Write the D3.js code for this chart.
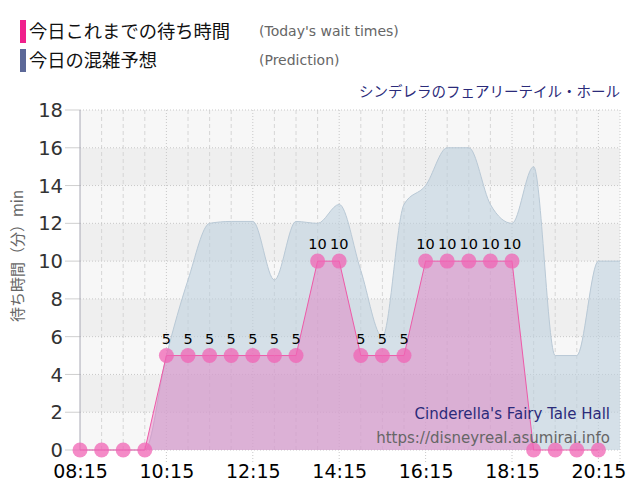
<!DOCTYPE html>
<html><head><meta charset="utf-8">
<script src="https://cdn.jsdelivr.net/npm/d3@7"></script>
<style>body{margin:0;background:#fff}svg{display:block}</style>
</head><body>
<svg id="c" width="640" height="500"></svg>
<script>
// ---- data ----
const actualTimes = ["08:15","08:45","09:15","09:45","10:15","10:45","11:15","11:45","12:15","12:45","13:15","13:45","14:15","14:45","15:15","15:45","16:15","16:45","17:15","17:45","18:15","18:45","19:15","19:45","20:15"];
const actualValues = [0,0,0,0,5,5,5,5,5,5,5,10,10,5,5,5,10,10,10,10,10,0,0,0,0];
const predTimes = ["08:15","08:45","09:15","09:45","10:15","10:45","11:15","11:45","12:15","12:45","13:15","13:45","14:15","14:45","15:15","15:45","16:15","16:45","17:15","17:45","18:15","18:45","19:15","19:45","20:15","20:45"];
const predValues = [0,0,0,0,5,9,12,12.1,12.1,9,12.1,12,13,9.5,6,13,14,16,16,13,12,15,5,5,10,10];
const xTickLabels = ["08:15","10:15","12:15","14:15","16:15","18:15","20:15"];
const yTickValues = [0,2,4,6,8,10,12,14,16,18];
const xDomainLabels = ["08:15","20:45"];

const toMin = s => { const [h,m] = s.split(":").map(Number); return h*60+m; };

const L = 80, R = 620, T = 110, B = 450;
const svg = d3.select("#c");
const x = d3.scaleLinear().domain(xDomainLabels.map(toMin)).range([L, R]);
const y = d3.scaleLinear().domain([0, 18]).range([B, T]);

// bands
const g = svg.append("g");
for (let i = 0; i < 9; i++) {
  g.append("rect").attr("x", L).attr("width", R - L)
    .attr("y", y(i*2+2)).attr("height", y(i*2) - y(i*2+2))
    .attr("fill", i % 2 === 0 ? "#f7f7f7" : "#efefef");
}
// vertical grid
const majors = xTickLabels.map(toMin);
for (let t = toMin("08:45"); t <= toMin("20:45"); t += 30) {
  const isMajor = majors.includes(t) || t === toMin("20:45");
  g.append("line").attr("x1", x(t)).attr("x2", x(t)).attr("y1", T).attr("y2", isMajor ? B + 13 : B)
    .attr("stroke", isMajor ? "#c8c8c8" : "#d6d6d6")
    .attr("stroke-dasharray", isMajor ? "1,2" : "4,3");
}
// horizontal grid
yTickValues.forEach(v => {
  g.append("line").attr("x1", 65).attr("x2", L).attr("y1", y(v)).attr("y2", y(v)).attr("stroke", "#cfcfcf");
  g.append("line").attr("x1", L).attr("x2", R).attr("y1", y(v)).attr("y2", y(v))
    .attr("stroke", "#c8c8c8").attr("stroke-dasharray", "1,2");
});
// y axis line
g.append("line").attr("x1", L).attr("x2", L).attr("y1", T).attr("y2", B).attr("stroke", "#a8a8b4");

// prediction area
const pred = predTimes.map((t, i) => ({t: toMin(t), v: predValues[i]}));
svg.append("path").datum(pred)
  .attr("d", d3.area().x(d => x(d.t)).y0(y(0)).y1(d => y(d.v)).curve(d3.curveMonotoneX))
  .attr("fill", "rgba(190,208,222,0.6)");
svg.append("path").datum(pred)
  .attr("d", d3.line().x(d => x(d.t)).y(d => y(d.v)).curve(d3.curveMonotoneX))
  .attr("fill", "none").attr("stroke", "#b9c9d6").attr("stroke-width", 1);

// actual area
const act = actualTimes.map((t, i) => ({t: toMin(t), v: actualValues[i]}));
svg.append("path").datum(act)
  .attr("d", d3.area().x(d => x(d.t)).y0(y(0)).y1(d => y(d.v)))
  .attr("fill", "rgba(228,125,195,0.48)");
svg.append("path").datum(act)
  .attr("d", d3.line().x(d => x(d.t)).y(d => y(d.v)))
  .attr("fill", "none").attr("stroke", "#ee5aa8").attr("stroke-width", 1);
svg.selectAll("circle.pt").data(act).enter().append("circle")
  .attr("cx", d => x(d.t)).attr("cy", d => y(d.v)).attr("r", 7.5)
  .attr("fill", "rgba(240,100,180,0.75)");
svg.selectAll("text.lbl").data(act.filter(d => d.v > 0)).enter().append("text")
  .attr("x", d => x(d.t)).attr("y", d => y(d.v) - 12).attr("text-anchor", "middle")
  .attr("font-family", "DejaVu Sans").attr("font-size", 14.5).attr("fill", "#000")
  .text(d => d.v);

// axes
const yAxis = svg.append("g").attr("transform", `translate(${L},0)`)
  .call(d3.axisLeft(y).tickValues(yTickValues).tickSize(0).tickPadding(17));
yAxis.select(".domain").remove();
yAxis.selectAll("text").attr("font-family", "DejaVu Sans").attr("font-size", 19.5).attr("fill", "#333").attr("dy", "0.34em");

const xAxis = svg.append("g").attr("transform", `translate(0,${B})`)
  .call(d3.axisBottom(x).tickValues(majors).tickFormat((d, i) => xTickLabels[i]).tickSize(0).tickPadding(17));
xAxis.select(".domain").remove();
xAxis.selectAll("text").attr("font-family", "DejaVu Sans").attr("font-size", 19).attr("fill", "#000").attr("dy", "0.6em");

// y title
svg.append("text").attr("transform", "translate(23,256) rotate(-90)").attr("text-anchor", "middle")
  .attr("font-family", "Noto Sans CJK JP").attr("font-size", 15).attr("fill", "#666")
  .text("待ち時間（分）min");

// legend
svg.append("rect").attr("x", 20).attr("y", 20).attr("width", 6).attr("height", 23).attr("fill", "#f0208c");
svg.append("rect").attr("x", 20).attr("y", 49).attr("width", 6).attr("height", 23).attr("fill", "#5c6898");
const lt = (xx, yy, s, size, col, fam) => svg.append("text").attr("x", xx).attr("y", yy)
  .attr("font-family", fam).attr("font-size", size).attr("fill", col).text(s);
lt(29, 38, "今日これまでの待ち時間", 18.3, "#111", "Noto Sans CJK JP");
lt(29, 67, "今日の混雑予想", 18.3, "#111", "Noto Sans CJK JP");
lt(259, 36, "(Today's wait times)", 14, "#666", "DejaVu Sans");
lt(259, 65, "(Prediction)", 14, "#666", "DejaVu Sans");

// title
svg.append("text").attr("x", 620).attr("y", 97).attr("text-anchor", "end")
  .attr("font-family", "Noto Sans CJK JP").attr("font-size", 14.5).attr("fill", "#2b2b7a")
  .text("シンデレラのフェアリーテイル・ホール");
svg.append("text").attr("x", 610).attr("y", 419).attr("text-anchor", "end")
  .attr("font-family", "DejaVu Sans").attr("font-size", 15).attr("fill", "#2b2b7a")
  .text("Cinderella's Fairy Tale Hall");
svg.append("text").attr("x", 610).attr("y", 443).attr("text-anchor", "end")
  .attr("font-family", "DejaVu Sans").attr("font-size", 15).attr("fill", "#666")
  .text("https://disneyreal.asumirai.info");
</script>
</body></html>
